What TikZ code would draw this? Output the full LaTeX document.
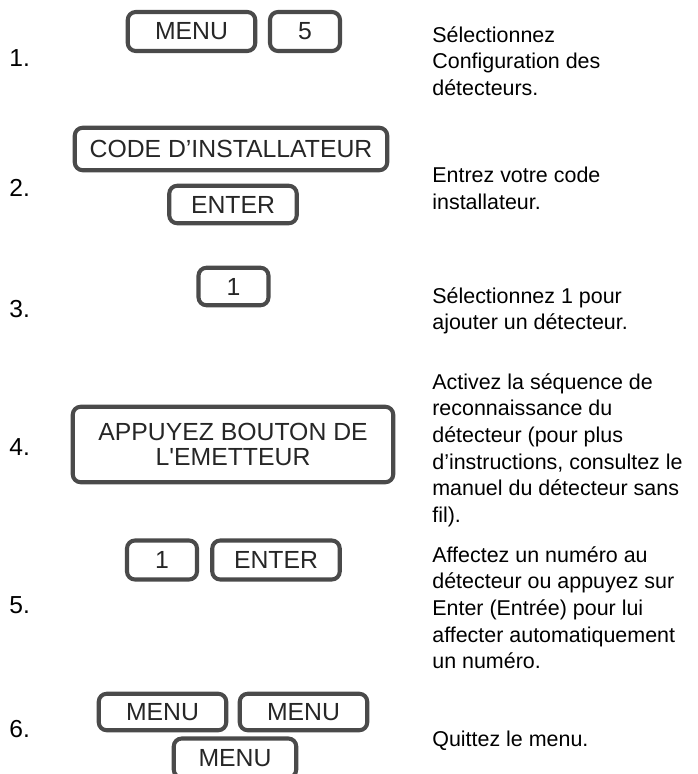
\documentclass[tikz,border=0pt]{standalone}
\usepackage{fontspec}
\setmainfont{Liberation Sans}
\newfontfamily\keyfont{Liberation Sans}[Ligatures=TeXOff]
\usepackage{tikz}
\definecolor{keyline}{HTML}{4A4A4A}
\definecolor{keytext}{HTML}{262626}
\tikzset{
	key/.style={draw=keyline, line width=2.3pt, rounded corners=0.16cm, inner sep=0pt,
		minimum height=0.78cm, text=keytext, align=center,
		font=\keyfont\fontsize{14.1}{14.4}\selectfont},
	wide key/.style={key, minimum width=2.55cm},
	small key/.style={key, minimum width=1.4cm},
	stepnum/.style={anchor=base west, inner sep=0pt, font=\fontsize{14}{16}\selectfont},
	note/.style={anchor=north west, inner sep=0pt, align=left, font=\fontsize{12.2}{15.2}\selectfont}
}
\begin{document}
\begin{tikzpicture}
			\useasboundingbox (0,0) rectangle (13.94,-15.48);

			\node[stepnum] (n1) at (0.18,-1.34) {1.};
			\node[stepnum] (n2) at (0.18,-3.94) {2.};
			\node[stepnum] (n3) at (0.18,-6.34) {3.};
			\node[stepnum] (n4) at (0.18,-9.10) {4.};
			\node[stepnum] (n5) at (0.18,-12.26) {5.};
			\node[stepnum] (n6) at (0.18,-14.74) {6.};

			\node[wide key] (menu1) at (3.83,-0.63) {MENU};
			\node[small key] (five1) at (6.10,-0.63) {5};
			\node[key, minimum width=6.25cm, minimum height=0.85cm] (code2) at (4.62,-2.98) {CODE D’INSTALLATEUR};
			\node[wide key, minimum height=0.75cm] (enter2) at (4.66,-4.09) {ENTER};
			\node[small key, minimum height=0.75cm] (one3) at (4.67,-5.73) {1};
			\node[key, minimum width=6.41cm, minimum height=1.51cm] (press4) at (4.66,-8.89) {APPUYEZ BOUTON DE\\L'EMETTEUR};
			\node[small key] (one5) at (3.24,-11.20) {1};
			\node[wide key] (enter5) at (5.52,-11.20) {ENTER};
			\node[wide key, minimum height=0.73cm] (menu6a) at (3.25,-14.24) {MENU};
			\node[wide key, minimum height=0.73cm] (menu6b) at (6.07,-14.24) {MENU};
			\node[wide key, minimum width=2.45cm] (menu6c) at (4.70,-15.16) {MENU};

			\node[note] (t1) at (8.64,-0.52) {Sélectionnez\\Configuration des\\détecteurs.};
			\node[note] (t2) at (8.64,-3.34) {Entrez votre code\\installateur.};
			\node[note] (t3) at (8.64,-5.74) {Sélectionnez 1 pour\\ajouter un détecteur.};
			\node[note] (t4) at (8.64,-7.46) {Activez la séquence de\\reconnaissance du\\détecteur (pour plus\\d’instructions, consultez le\\manuel du détecteur sans\\fil).};
			\node[note] (t5) at (8.64,-10.92) {Affectez un numéro au\\détecteur ou appuyez sur\\Enter (Entrée) pour lui\\affecter automatiquement\\un numéro.};
			\node[note] (t6) at (8.64,-14.62) {Quittez le menu.};
		\end{tikzpicture}
\end{document}
